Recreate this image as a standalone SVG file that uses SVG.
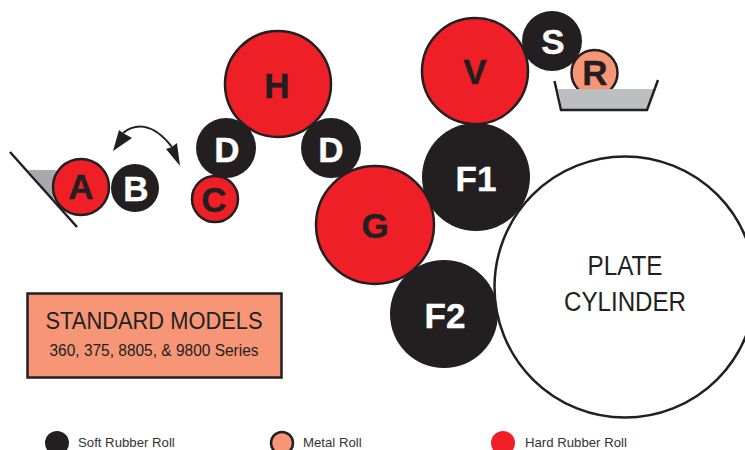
<svg xmlns="http://www.w3.org/2000/svg" width="745" height="450" viewBox="0 0 745 450">
<style>
text{font-family:"Liberation Sans",Arial,sans-serif;text-anchor:middle}
.lab{font-weight:700;font-size:35px;stroke-width:.4px}
.w{fill:#fff}.k{fill:#231f20}
.lab.w{stroke:#fff}.lab.k{stroke:#231f20}
.red{fill:#ef1f28;stroke:#231f20;stroke-width:2.5}
.blk{fill:#231f20}
.met{fill:#f79677;stroke:#231f20;stroke-width:2.5}
.ln{fill:none;stroke:#231f20;stroke-width:2.5}
.lg{font-size:13.200px;fill:#333;text-anchor:start}
</style>
<g id="tray-a">
<polygon points="28,170 56,170 53,200" fill="#a7a9ac"/>
<line x1="10" y1="152" x2="77" y2="227" class="ln"/>
</g>
<g id="connectors">
<path d="M123,133 C134,124 152,121 172,147" fill="none" stroke="#231f20" stroke-width="2"/>
<polygon points="113,151 119,130 123,133 132,138" class="k"/>
<polygon points="180,166 166,149 172,147 177,143" class="k"/>
</g>
<g id="roll-A"><circle cx="81" cy="187" r="28" class="red"/><text x="81" y="199" class="lab k">A</text></g>
<g id="roll-B"><circle cx="135" cy="188" r="24" class="blk"/><text x="136" y="201" class="lab w">B</text></g>
<g id="roll-C"><circle cx="215" cy="199" r="23" class="red"/><text x="214" y="212" class="lab k">C</text></g>
<g id="roll-D1"><circle cx="226" cy="148" r="30" class="blk"/><text x="227" y="162" class="lab w">D</text></g>
<g id="roll-D2"><circle cx="331" cy="148" r="30" class="blk"/><text x="331" y="162" class="lab w">D</text></g>
<g id="roll-H"><circle cx="278" cy="84" r="53" class="red"/><text x="277" y="98" class="lab k">H</text></g>
<g id="roll-V"><circle cx="475" cy="71" r="53" class="red"/><text x="475" y="84" class="lab k">V</text></g>
<g id="roll-S"><circle cx="552" cy="41" r="30" class="blk"/><text x="553" y="54" class="lab w">S</text></g>
<g id="roll-R">
<circle cx="594.500" cy="73" r="23" class="met"/>
<text x="595" y="85" class="lab k">R</text></g>
<g id="tray-r">
<polygon points="558,89 654,89 646,109 562,109" fill="#bcbec0"/>
<polyline points="554.500,81 561,110 647,110 658,80" class="ln"/></g>
<g id="roll-F1"><circle cx="476" cy="177" r="54" class="blk"/><text x="476" y="191" class="lab w">F1</text></g>
<g id="roll-G"><circle cx="375" cy="225" r="59" class="red"/><text x="375" y="238" class="lab k">G</text></g>
<g id="roll-F2"><circle cx="444" cy="314" r="54" class="blk"/><text x="445" y="328" class="lab w">F2</text></g>
<g id="plate-cylinder"><circle cx="625" cy="287" r="130.500" fill="#fff" stroke="#231f20" stroke-width="2.500"/>
<text x="625" y="275" font-size="27" class="k" textLength="75" lengthAdjust="spacingAndGlyphs">PLATE</text>
<text x="625" y="311" font-size="27" class="k" textLength="122" lengthAdjust="spacingAndGlyphs">CYLINDER</text></g>
<g id="title-box"><rect x="27.500" y="293.500" width="254" height="84" fill="#f79677" stroke="#231f20" stroke-width="2.500"/>
<text x="154" y="329" font-size="24" class="k" textLength="217" lengthAdjust="spacingAndGlyphs">STANDARD MODELS</text>
<text x="154" y="356" font-size="16" class="k" textLength="209" lengthAdjust="spacingAndGlyphs">360, 375, 8805, &amp; 9800 Series</text></g>
<g id="legend-soft"><circle cx="57" cy="443" r="12" class="blk"/><text x="78" y="447" class="lg">Soft Rubber Roll</text></g>
<g id="legend-metal"><circle cx="282" cy="443" r="11" class="met"/><text x="303" y="447" class="lg">Metal Roll</text></g>
<g id="legend-hard"><circle cx="503" cy="443" r="12" fill="#ef1f28"/><text x="525" y="447" class="lg">Hard Rubber Roll</text></g>
</svg>
